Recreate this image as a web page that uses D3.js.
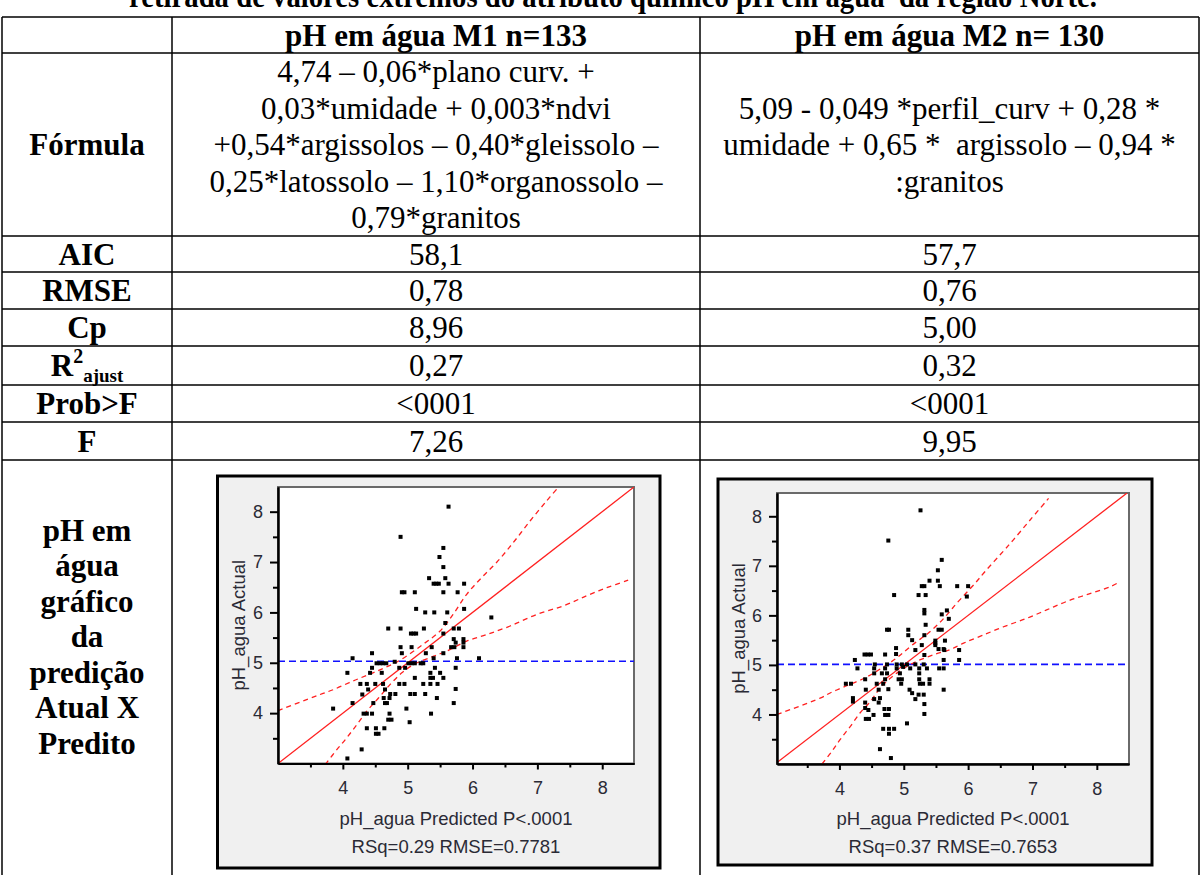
<!DOCTYPE html>
<html><head><meta charset="utf-8">
<script src="https://cdn.jsdelivr.net/npm/d3@7"></script>
<style>
body{margin:0;background:#fff}
svg{display:block}
.serif{font-family:"Liberation Serif","Times New Roman",serif;fill:#000}
.sans{font-family:"Liberation Sans",Arial,sans-serif}
</style>
</head><body>
<svg id="chart" width="1202" height="875"></svg>
<script>
// ---------- table content ----------
const titleText = "retirada de valores extremos do atributo químico pH em água  da região Norte.";
const columnHeaders = ["pH em água M1 n=133", "pH em água M2 n= 130"];
const formulaM1 = [
  "4,74 – 0,06*plano curv. +",
  "0,03*umidade + 0,003*ndvi",
  "+0,54*argissolos – 0,40*gleissolo –",
  "0,25*latossolo – 1,10*organossolo –",
  "0,79*granitos"
];
const formulaM2 = [
  "5,09 - 0,049 *perfil_curv + 0,28 *",
  "umidade + 0,65 *  argissolo – 0,94 *",
  ":granitos"
];
const statLabels = ["AIC", "RMSE", "Cp", "R2ajust", "Prob>F", "F"];
const statM1 = ["58,1", "0,78", "8,96", "0,27", "<0001", "7,26"];
const statM2 = ["57,7", "0,76", "5,00", "0,32", "<0001", "9,95"];
const plotRowLabel = ["pH em", "água", "gráfico", "da", "predição", "Atual X", "Predito"];

// ---------- actual by predicted plots ----------
const axisTicks = [4, 5, 6, 7, 8];
const axisMinorTicks = [3.5, 4.5, 5.5, 6.5, 7.5];
const xTitle = "pH_agua Predicted P<.0001";
const yTitle = "pH_agua Actual";
const fitSummaryM1 = "RSq=0.29 RMSE=0.7781";
const fitSummaryM2 = "RSq=0.37 RMSE=0.7653";
const meanActualM1 = 5.03;
const meanActualM2 = 5.01;

// [predicted, actual]
const pointsM1 = [
  [5.63,8.10],[4.89,7.50],[5.55,7.28],[5.49,7.10],[5.55,6.90],[5.33,6.68],[5.58,6.68],
  [5.40,6.57],[5.44,6.57],[5.48,6.57],[5.63,6.57],[5.87,6.57],
  [4.91,6.40],[4.95,6.40],[5.11,6.40],[5.55,6.40],[5.77,6.40],
  [5.13,6.07],[5.27,6.00],[5.41,6.00],[5.61,6.00],[5.87,6.07],[6.29,5.90],
  [5.58,5.79],[4.70,5.68],[4.89,5.68],[5.25,5.68],[5.71,5.68],[5.79,5.68],
  [5.05,5.58],[5.09,5.58],[5.13,5.58],[5.55,5.58],
  [5.71,5.47],[5.74,5.40],[5.86,5.47],[5.86,5.40],
  [5.67,5.31],[5.72,5.31],[5.86,5.31],
  [4.89,5.31],[5.06,5.31],[5.37,5.31],
  [4.45,5.19],[4.91,5.19],[5.28,5.19],[5.55,5.19],
  [4.15,5.09],[6.10,5.09],[5.76,5.09],[5.40,5.09],
  [4.52,4.99],[4.57,4.99],[4.62,4.99],[4.67,4.99],[4.80,5.02],[5.01,4.99],[5.06,4.99],[5.11,4.99],[5.20,4.99],[5.24,4.99],
  [4.07,4.80],[4.42,4.80],[4.60,4.80],[5.35,4.80],[5.50,4.80],
  [4.45,4.90],[4.87,4.90],[4.96,4.90],[5.42,4.90],[5.74,4.90],
  [5.11,4.70],[5.35,4.70],[5.39,4.70],[5.55,4.70],
  [4.27,4.58],[4.37,4.58],[4.50,4.58],[4.62,4.58],[4.87,4.58],[4.95,4.58],[5.24,4.58],[5.35,4.58],[5.46,4.58],
  [4.39,4.47],[4.65,4.47],[5.74,4.48],
  [4.30,4.37],[4.73,4.38],[4.81,4.38],[5.04,4.38],[5.11,4.38],[5.27,4.38],
  [4.72,4.30],[5.45,4.30],[4.63,4.30],
  [4.47,4.20],[4.65,4.20],[4.68,4.20],[4.15,4.20],[5.71,4.20],
  [3.85,4.09],[4.98,4.09],
  [4.32,3.99],[4.37,3.99],[4.45,3.99],[4.72,3.99],[5.36,3.99],
  [4.70,3.87],[4.75,3.87],[5.03,3.82],
  [4.37,3.70],[4.51,3.70],[4.64,3.70],
  [4.51,3.59],[4.55,3.59],
  [4.29,3.28],[4.07,3.10]
];
const upperBandM1 = [
  [3.00,4.05],[3.65,4.37],[3.86,4.47],[4.16,4.64],[4.50,4.82],[4.88,5.05],[5.24,5.37],
  [5.50,5.63],[5.70,5.96],[5.91,6.36],[6.14,6.69],[6.37,6.99],[6.63,7.39],[6.89,7.82],
  [7.14,8.21],[7.30,8.45]
];
const lowerBandM1 = [
  [3.73,2.98],[3.91,3.28],[4.06,3.51],[4.22,3.78],[4.37,4.04],[4.55,4.30],[4.73,4.57],
  [4.91,4.80],[5.10,4.97],[5.40,5.13],[5.60,5.23],[5.91,5.43],[6.22,5.56],[6.58,5.73],
  [6.99,5.96],[7.40,6.13],[7.76,6.33],[8.07,6.49],[8.40,6.64]
];

const pointsM2 = [
  [5.26,8.12],[4.76,7.51],[5.59,7.12],[5.53,6.91],[5.40,6.70],[5.53,6.70],
  [5.28,6.59],[5.32,6.59],[5.56,6.59],[5.83,6.59],[6.00,6.59],
  [4.85,6.41],[5.23,6.41],[5.34,6.41],[5.98,6.38],
  [5.32,6.11],[5.32,6.04],[5.67,6.10],[5.59,6.02],[5.70,5.93],
  [5.34,5.81],[4.74,5.71],[4.77,5.71],[5.07,5.71],[5.54,5.71],[5.59,5.71],
  [5.32,5.60],[5.07,5.60],
  [5.13,5.50],[5.49,5.49],[5.49,5.44],[5.64,5.49],
  [5.28,5.40],[5.49,5.40],
  [4.88,5.34],[4.88,5.22],[5.18,5.30],[5.63,5.30],[5.86,5.30],[5.54,5.32],[5.62,5.32],
  [4.39,5.21],[4.44,5.21],[4.49,5.21],[4.71,5.21],[5.32,5.20],
  [4.24,5.10],[5.86,5.10],[5.62,5.10],
  [4.55,5.01],[4.74,5.01],[4.89,5.01],[4.97,5.01],[5.05,5.01],[5.18,5.01],[5.31,5.01],
  [4.54,4.93],[4.71,4.93],[4.89,4.93],[4.99,4.96],[5.10,4.93],[4.28,4.93],[5.24,4.93],[5.36,4.93],[5.55,4.93],[5.62,4.93],
  [4.54,4.83],[4.66,4.83],[4.74,4.83],[4.94,4.83],[5.24,4.83],
  [4.40,4.71],[4.71,4.71],[4.92,4.71],[4.97,4.71],[5.24,4.71],[5.40,4.71],[5.40,4.62],
  [4.10,4.62],[4.18,4.62],[4.58,4.62],[4.68,4.62],[4.96,4.62],[5.25,4.62],[5.30,4.62],
  [5.62,4.50],[4.41,4.50],[4.61,4.50],[4.76,4.51],[5.09,4.50],[5.13,4.43],
  [5.18,4.31],[5.23,4.40],[5.31,4.40],
  [4.21,4.33],[4.21,4.26],[4.40,4.24],[4.40,4.13],[4.54,4.31],[4.61,4.24],[4.63,4.33],
  [4.70,4.11],[4.77,4.11],[5.32,4.21],
  [4.45,4.09],[4.53,3.99],[5.32,4.01],
  [4.41,3.91],[4.46,3.91],[4.71,3.99],[4.76,3.99],
  [5.05,3.82],
  [4.68,3.71],[4.77,3.71],[4.85,3.71],[4.77,3.61],
  [4.63,3.30],[4.80,3.12]
];
const upperBandM2 = [
  [3.03,4.00],[3.70,4.33],[3.88,4.45],[4.06,4.55],[4.40,4.74],[4.65,4.93],[4.87,5.12],
  [5.00,5.26],[5.18,5.45],[5.36,5.62],[5.54,5.83],[5.69,6.04],[5.82,6.24],[6.11,6.65],
  [6.26,6.88],[6.55,7.30],[6.70,7.52],[6.96,7.92],[7.25,8.36]
];
const lowerBandM2 = [
  [3.73,3.00],[3.88,3.25],[4.01,3.49],[4.17,3.76],[4.32,4.03],[4.48,4.26],[4.63,4.53],
  [4.80,4.74],[5.00,4.93],[5.25,5.10],[5.50,5.22],[5.72,5.31],[5.93,5.44],[6.21,5.59],
  [6.55,5.77],[6.91,5.94],[7.22,6.11],[7.53,6.28],[7.87,6.43],[8.21,6.58],[8.36,6.68]
];

const svg = d3.select("#chart");

// ---------- table ----------
const colX = [2, 172, 700, 1199];
const rowY = [17, 53, 236, 272, 309, 346, 385, 422, 460];
const FS = 31;

svg.append("text").attr("class", "serif")
  .attr("x", 613).attr("y", 7)
  .attr("text-anchor", "middle")
  .attr("font-size", FS).attr("font-weight", "bold")
  .attr("textLength", 968).attr("lengthAdjust", "spacingAndGlyphs")
  .style("white-space", "pre")
  .text(titleText);

const grid = svg.append("g").attr("stroke", "#000").attr("stroke-width", 1.5);
rowY.forEach(y => grid.append("line").attr("x1", colX[0]).attr("x2", colX[3]).attr("y1", y).attr("y2", y));
colX.forEach(x => grid.append("line").attr("x1", x).attr("x2", x).attr("y1", rowY[0]).attr("y2", 875));

const colMid = i => (colX[i] + colX[i + 1]) / 2;
function cellText(x, y, txt, bold) {
  return svg.append("text").attr("class", "serif")
    .attr("x", x).attr("y", y)
    .attr("text-anchor", "middle").attr("dominant-baseline", "central")
    .attr("font-size", FS).attr("font-weight", bold ? "bold" : "normal")
    .style("white-space", "pre")
    .text(txt);
}

// header row
columnHeaders.forEach((h, i) => cellText(colMid(i + 1), (rowY[0] + rowY[1]) / 2, h, true));

// formula row
const fMid = (rowY[1] + rowY[2]) / 2;
const lineGap = 36.5;
cellText(colMid(0), fMid, "Fórmula", true);
formulaM1.forEach((t, i) => cellText(colMid(1), fMid + (i - (formulaM1.length - 1) / 2) * lineGap, t, false));
formulaM2.forEach((t, i) => cellText(colMid(2), fMid + (i - (formulaM2.length - 1) / 2) * lineGap, t, false));

// statistics rows
statLabels.forEach((lab, i) => {
  const yc = (rowY[2 + i] + rowY[3 + i]) / 2;
  if (lab === "R2ajust") {
    const t = svg.append("text").attr("class", "serif")
      .attr("x", colMid(0)).attr("y", yc + 10)
      .attr("text-anchor", "middle").attr("font-weight", "bold").attr("font-size", FS);
    t.append("tspan").text("R");
    t.append("tspan").attr("font-size", 20).attr("dy", -13).text("2");
    t.append("tspan").attr("font-size", 19).attr("dy", 19).text("ajust");
  } else {
    cellText(colMid(0), yc, lab, true);
  }
  cellText(colMid(1), yc, statM1[i], false);
  cellText(colMid(2), yc, statM2[i], false);
});

// label of plot row
plotRowLabel.forEach((t, i) => cellText(colMid(0), 530 + i * 35.5, t, true));

// ---------- plots ----------
function drawPlot(cfg) {
  const g = svg.append("g");
  // panel
  g.append("rect")
    .attr("x", cfg.box[0]).attr("y", cfg.box[1])
    .attr("width", cfg.box[2] - cfg.box[0]).attr("height", cfg.box[3] - cfg.box[1])
    .attr("fill", "#f0f0f0").attr("stroke", "#000").attr("stroke-width", 3);

  const [L, T, R, B] = cfg.frame;
  const x = d3.scaleLinear().domain(cfg.xDomain).range([L, R]);
  const y = d3.scaleLinear().domain(cfg.yDomain).range([B, T]);

  g.append("rect").attr("x", L).attr("y", T).attr("width", R - L).attr("height", B - T)
    .attr("fill", "#fff").attr("stroke", "#6a6a6a").attr("stroke-width", 2);

  const clipId = "clip" + cfg.id;
  svg.append("clipPath").attr("id", clipId)
    .append("rect").attr("x", L).attr("y", T).attr("width", R - L).attr("height", B - T);
  const inner = g.append("g").attr("clip-path", `url(#${clipId})`);

  // mean of actual
  inner.append("line")
    .attr("x1", L).attr("x2", R).attr("y1", y(cfg.mean)).attr("y2", y(cfg.mean))
    .attr("stroke", "#1010ff").attr("stroke-width", 1.6).attr("stroke-dasharray", "7,4");

  // actual = predicted line
  const lo = Math.max(cfg.xDomain[0], cfg.yDomain[0]);
  const hi = Math.min(cfg.xDomain[1], cfg.yDomain[1]);
  inner.append("line")
    .attr("x1", x(lo)).attr("y1", y(lo)).attr("x2", x(hi)).attr("y2", y(hi))
    .attr("stroke", "#ff2020").attr("stroke-width", 1.3);

  // confidence curves
  const curve = d3.line().x(d => x(d[0])).y(d => y(d[1])).curve(d3.curveCatmullRom.alpha(0.5));
  [cfg.upper, cfg.lower].forEach(band => {
    inner.append("path").attr("d", curve(band))
      .attr("fill", "none").attr("stroke", "#ff2020").attr("stroke-width", 1.3)
      .attr("stroke-dasharray", "5,4");
  });

  // observations
  inner.append("g").selectAll("rect").data(cfg.points).join("rect")
    .attr("x", d => x(d[0]) - 2).attr("y", d => y(d[1]) - 2)
    .attr("width", 4).attr("height", 4).attr("fill", "#000");

  // axes
  const tickFont = g => g.selectAll("text")
    .attr("font-family", "'Liberation Sans', Arial, sans-serif")
    .attr("font-size", 18).attr("fill", "#2a2a35");
  const xMinor = d3.axisBottom(x).tickValues(axisMinorTicks).tickSize(4).tickFormat("").tickSizeOuter(0);
  const yMinor = d3.axisLeft(y).tickValues(axisMinorTicks).tickSize(5).tickFormat("").tickSizeOuter(0);
  const xMajor = d3.axisBottom(x).tickValues(axisTicks).tickSize(6).tickPadding(12).tickSizeOuter(0).tickFormat(d3.format("d"));
  const yMajor = d3.axisLeft(y).tickValues(axisTicks).tickSize(8).tickPadding(7).tickSizeOuter(0).tickFormat(d3.format("d"));
  [xMinor, xMajor].forEach(a => g.append("g").attr("transform", `translate(0,${B})`).call(a).call(tickFont)
    .call(s => s.selectAll("line,path").attr("stroke", "#000").attr("stroke-width", 2)));
  [yMinor, yMajor].forEach(a => g.append("g").attr("transform", `translate(${L},0)`).call(a).call(tickFont)
    .call(s => s.selectAll("line,path").attr("stroke", "#000").attr("stroke-width", 2)));

  // titles
  g.append("text").attr("class", "sans")
    .attr("transform", `translate(${cfg.yTitleX},${(T + B) / 2}) rotate(-90)`)
    .attr("text-anchor", "middle").attr("dominant-baseline", "central")
    .attr("font-size", 18.5).attr("fill", "#2a2a35").text(yTitle);
  g.append("text").attr("class", "sans")
    .attr("x", (L + R) / 2).attr("y", 818.5)
    .attr("text-anchor", "middle").attr("dominant-baseline", "central")
    .attr("font-size", 18.5).attr("fill", "#2a2a35").text(xTitle);
  g.append("text").attr("class", "sans")
    .attr("x", (L + R) / 2).attr("y", 846.5)
    .attr("text-anchor", "middle").attr("dominant-baseline", "central")
    .attr("font-size", 18.5).attr("fill", "#2a2a35").text(cfg.summary);
}

drawPlot({
  id: 1, box: [217.5, 476, 660, 868], frame: [278, 487, 634, 763.5],
  xDomain: [3.0, 8.49], yDomain: [3.0, 8.49], yTitleX: 238,
  points: pointsM1, upper: upperBandM1, lower: lowerBandM1,
  mean: meanActualM1, summary: fitSummaryM1
});
drawPlot({
  id: 2, box: [718, 479, 1152, 865], frame: [777, 493, 1129, 764],
  xDomain: [3.03, 8.5], yDomain: [3.0, 8.47], yTitleX: 738.5,
  points: pointsM2, upper: upperBandM2, lower: lowerBandM2,
  mean: meanActualM2, summary: fitSummaryM2
});
</script>
</body></html>
